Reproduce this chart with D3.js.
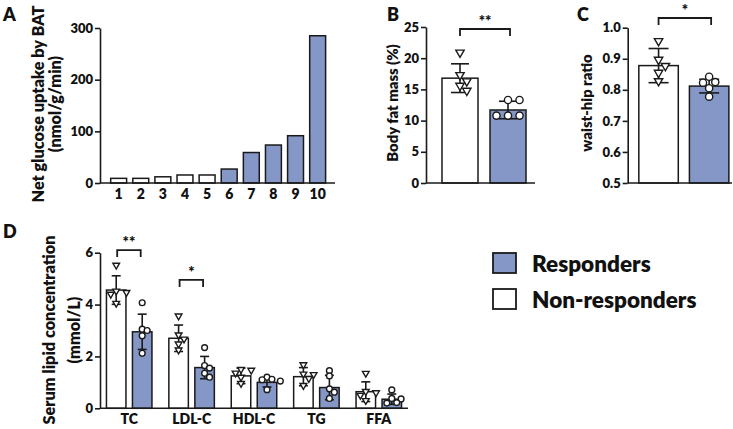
<!DOCTYPE html>
<html><head><meta charset="utf-8">
<script src="https://cdn.jsdelivr.net/npm/d3@7"></script>
<style>
body{margin:0;background:#fff}
svg text{font-family:Lato,"Open Sans",sans-serif;font-weight:800;fill:#111}
</style></head><body>
<svg id="c" width="733" height="429"></svg>
<script>
// ---------- DATA ----------
const subjects = ["1","2","3","4","5","6","7","8","9","10"];
const glucoseUptake = [9,9,12,15.5,15.5,27,59,73.5,91.5,285];
const responderFlag = [0,0,0,0,0,1,1,1,1,1];
const uptakeTicks = [0,100,200,300];

const groups = ["Non-responders","Responders"];

const fatMean = [16.8, 11.7];
const fatSD = [2.3, 1.4];
const fatNon = [20.9, 17.3, 16.3, 15.6, 14.8];
const fatResp = [13.3, 13.3, 10.8, 10.8, 10.8];
const fatTicks = [0,5,10,15,20,25];

const whrMean = [0.878, 0.812];
const whrSD = [0.055, 0.022];
const whrNon = [0.957, 0.897, 0.877, 0.855, 0.828];
const whrResp = [0.842, 0.825, 0.823, 0.805, 0.778];
const whrTicks = [0.5,0.6,0.7,0.8,0.9,1.0];

const lipids = ["TC","LDL-C","HDL-C","TG","FFA"];
const lipidMeanNon = [4.56, 2.70, 1.25, 1.22, 0.64];
const lipidSDNon = [0.55, 0.51, 0.30, 0.35, 0.38];
const lipidMeanResp = [2.95, 1.57, 1.00, 0.80, 0.35];
const lipidSDResp = [0.68, 0.43, 0.18, 0.47, 0.20];
const lipidPtsNon = [[5.52,4.52,4.47,4.40,4.05],[3.56,2.83,2.67,2.48,2.25],[1.50,1.47,1.36,1.20,0.96],[1.68,1.32,1.30,1.15,0.88],[1.35,0.65,0.60,0.50,0.30]];
const lipidPtsResp = [[4.07,3.05,3.00,2.80,2.12],[2.34,1.65,1.55,1.35,1.20],[1.20,1.12,1.10,1.05,0.72],[1.45,1.25,0.75,0.62,0.38],[0.71,0.38,0.36,0.22,0.20]];
const lipidTicks = [0,2,4,6];
const lipidSigCats = ["TC","LDL-C"];
const lipidSigLabels = ["**","*"];
const lipidSigLevels = [6.1, 4.95];

// ---------- STYLE ----------
const BLUE = "#8497c6";
const INK = "#1a1a1a";
const svg = d3.select("#c");

function styleAxis(g){
  g.selectAll("path,line").attr("stroke",INK).attr("stroke-width",1.6);
  g.selectAll("text").attr("font-size",13).attr("fill","#111");
}
function yAxis(y, x0, ticks, fmt){
  const g = svg.append("g").attr("transform",`translate(${x0},0)`)
    .call(d3.axisLeft(y).tickValues(ticks).tickSize(5).tickSizeOuter(0).tickPadding(2).tickFormat(fmt||d3.format("d")));
  styleAxis(g);
  return g;
}
function baseLine(x1,x2,yv){
  svg.append("line").attr("x1",x1).attr("x2",x2).attr("y1",yv).attr("y2",yv)
    .attr("stroke",INK).attr("stroke-width",1.6);
}
function panelLetter(t,x,y){
  svg.append("text").attr("x",x).attr("y",y).attr("font-size",18).text(t);
}
function yTitle(lines, xs, ycenter, fs){
  lines.forEach((l,i)=>{
    svg.append("text").attr("transform",`translate(${xs[i]},${ycenter}) rotate(-90)`)
      .attr("text-anchor","middle").attr("font-size",fs).text(l);
  });
}
// simple beeswarm: returns x offsets
function swarm(vals, y, r){
  const placed=[]; const order = vals.map((v,i)=>i).sort((a,b)=>vals[b]-vals[a]);
  const off = new Array(vals.length).fill(0);
  const cands=[0, 1.7*r, -1.7*r, 3.2*r, -3.2*r, 4.6*r, -4.6*r];
  order.forEach(i=>{
    const py=y(vals[i]);
    for(const c of cands){
      if(placed.every(p=>Math.hypot(p[0]-c,p[1]-py)>=1.75*r)){ off[i]=c; placed.push([c,py]); return; }
    }
    placed.push([0,py]);
  });
  return off;
}
function points(vals, cx, y, kind, r){
  const offs = swarm(vals,y,r);
  vals.forEach((v,i)=>{
    if(kind==="tri"){
      svg.append("path").attr("d",d3.symbol(d3.symbolTriangle, r*r*1.9)())
        .attr("transform",`translate(${cx+offs[i]},${y(v)}) rotate(180)`)
        .attr("fill","#fff").attr("stroke",INK).attr("stroke-width",1.4);
    } else {
      svg.append("circle").attr("cx",cx+offs[i]).attr("cy",y(v)).attr("r",r)
        .attr("fill","#fff").attr("stroke",INK).attr("stroke-width",1.4);
    }
  });
}
function errBar(cx, y, m, sd, cap){
  const g = svg.append("g").attr("stroke",INK).attr("stroke-width",1.6);
  g.append("line").attr("x1",cx).attr("x2",cx).attr("y1",y(m+sd)).attr("y2",y(m-sd));
  g.append("line").attr("x1",cx-cap/2).attr("x2",cx+cap/2).attr("y1",y(m+sd)).attr("y2",y(m+sd));
  g.append("line").attr("x1",cx-cap/2).attr("x2",cx+cap/2).attr("y1",y(m-sd)).attr("y2",y(m-sd));
}
function bracket(x1,x2,ytop,leg,label,fs){
  svg.append("path").attr("d",`M${x1},${ytop+leg}V${ytop}H${x2}V${ytop+leg}`)
    .attr("fill","none").attr("stroke",INK).attr("stroke-width",1.8);
  svg.append("text").attr("x",(x1+x2)/2).attr("y",ytop-3).attr("text-anchor","middle")
    .attr("font-size",fs).text(label);
}

// ---------- PANEL A ----------
{
  const y = d3.scaleLinear().domain([0,300]).range([183,28]);
  const x = d3.scaleBand().domain(subjects).range([104.5,331.8]).paddingInner(0.28).paddingOuter(0.28);
  svg.append("g").selectAll("rect").data(subjects).join("rect")
    .attr("x",d=>x(d)).attr("width",x.bandwidth())
    .attr("y",(d,i)=>y(glucoseUptake[i])).attr("height",(d,i)=>y(0)-y(glucoseUptake[i]))
    .attr("fill",(d,i)=>responderFlag[i]?BLUE:"#fff").attr("stroke",INK).attr("stroke-width",1.5);
  yAxis(y,100,uptakeTicks);
  baseLine(100,335,183);
  const gx = svg.append("g").attr("transform","translate(0,183)")
    .call(d3.axisBottom(x).tickSize(0).tickPadding(6));
  gx.select(".domain").remove();
  gx.selectAll("text").attr("font-size",14).attr("fill","#111");
  panelLetter("A",3,21);
  yTitle(["Net glucose uptake by BAT","(nmol/g/min)"],[43.5,60.5],104,16.3);
}

// ---------- PANEL B ----------
{
  const y = d3.scaleLinear().domain([0,25]).range([183,27]);
  const x = d3.scaleBand().domain(groups).range([426,542]).paddingInner(0.25).paddingOuter(0.333);
  groups.forEach((g,i)=>{
    svg.append("rect").attr("x",x(g)).attr("width",x.bandwidth()).attr("y",y(fatMean[i]))
      .attr("height",y(0)-y(fatMean[i])).attr("fill",i?BLUE:"#fff").attr("stroke",INK).attr("stroke-width",1.5);
  });
  const cx = g=>x(g)+x.bandwidth()/2;
  errBar(cx(groups[0]),y,fatMean[0],fatSD[0],18);
  errBar(cx(groups[1]),y,fatMean[1],fatSD[1],18);
  points(fatNon,cx(groups[0]),y,"tri",4);
  points(fatResp,cx(groups[1]),y,"circ",3.6);
  yAxis(y,426,fatTicks);
  baseLine(426,535,183);
  bracket(cx(groups[0]),cx(groups[1])+2,29,7,"**",15);
  panelLetter("B",387,21);
  yTitle(["Body fat mass (%)"],[398],103,14.8);
}

// ---------- PANEL C ----------
{
  const y = d3.scaleLinear().domain([0.5,1.0]).range([183,27.7]);
  const x = d3.scaleBand().domain(groups).range([627.7,740]).paddingInner(0.22).paddingOuter(0.22);
  groups.forEach((g,i)=>{
    svg.append("rect").attr("x",x(g)).attr("width",x.bandwidth()).attr("y",y(whrMean[i]))
      .attr("height",y(0.5)-y(whrMean[i])).attr("fill",i?BLUE:"#fff").attr("stroke",INK).attr("stroke-width",1.5);
  });
  const cx = g=>x(g)+x.bandwidth()/2;
  errBar(cx(groups[0]),y,whrMean[0],whrSD[0],20);
  errBar(cx(groups[1]),y,whrMean[1],whrSD[1],20);
  points(whrNon,cx(groups[0]),y,"tri",4);
  points(whrResp,cx(groups[1]),y,"circ",3.6);
  yAxis(y,627.7,whrTicks,d3.format(".1f"));
  baseLine(627.7,732,183);
  bracket(cx(groups[0]),cx(groups[1])+2,18,7,"*",15);
  panelLetter("C",577,21);
  yTitle(["waist-hip ratio"],[592],103,14.8);
}

// ---------- PANEL D ----------
{
  const y = d3.scaleLinear().domain([0,6]).range([408.3,252.7]);
  const x0 = d3.scaleBand().domain(lipids).range([98,410]);
  const x1 = d3.scaleBand().domain(groups).range([8.45,53.95]).paddingInner(0.25);
  const means=[lipidMeanNon,lipidMeanResp], sds=[lipidSDNon,lipidSDResp], pts=[lipidPtsNon,lipidPtsResp];
  lipids.forEach((c,ci)=>{
    groups.forEach((g,gi)=>{
      const m=means[gi][ci];
      svg.append("rect").attr("x",x0(c)+x1(g)).attr("width",x1.bandwidth()).attr("y",y(m))
        .attr("height",y(0)-y(m)).attr("fill",gi?BLUE:"#fff").attr("stroke",INK).attr("stroke-width",1.5);
    });
  });
  lipids.forEach((c,ci)=>{
    groups.forEach((g,gi)=>{
      const cx=x0(c)+x1(g)+x1.bandwidth()/2;
      errBar(cx,y,means[gi][ci],sds[gi][ci],9);
      points(pts[gi][ci],cx,y,gi?"circ":"tri",gi?2.9:3.2);
    });
  });
  yAxis(y,100,lipidTicks);
  baseLine(100,408,408.3);
  const gx = svg.append("g").attr("transform","translate(0,408.3)")
    .call(d3.axisBottom(x0).tickSize(0).tickPadding(6));
  gx.select(".domain").remove();
  gx.selectAll("text").attr("font-size",14).attr("fill","#111");
  lipidSigCats.forEach((cat,k)=>{
    const a=x0(cat)+x1(groups[0])+x1.bandwidth()/2, b=x0(cat)+x1(groups[1])+x1.bandwidth()/2;
    bracket(a+1,b-1.5,y(lipidSigLevels[k]),7,lipidSigLabels[k],15);
  });
  panelLetter("D",3,238);
  yTitle(["Serum lipid concentration","(mmol/L)"],[55,80],330,16.3);

  // legend
  const leg = svg.append("g").attr("transform","translate(493,253)");
  [["Responders",BLUE],["Non-responders","#fff"]].forEach((d,i)=>{
    leg.append("rect").attr("x",0).attr("y",i*36).attr("width",23).attr("height",20)
      .attr("fill",d[1]).attr("stroke",INK).attr("stroke-width",1.8);
    leg.append("text").attr("x",39).attr("y",i*36+18.5).attr("font-size",22.5).text(d[0]);
  });
}
</script></body></html>
